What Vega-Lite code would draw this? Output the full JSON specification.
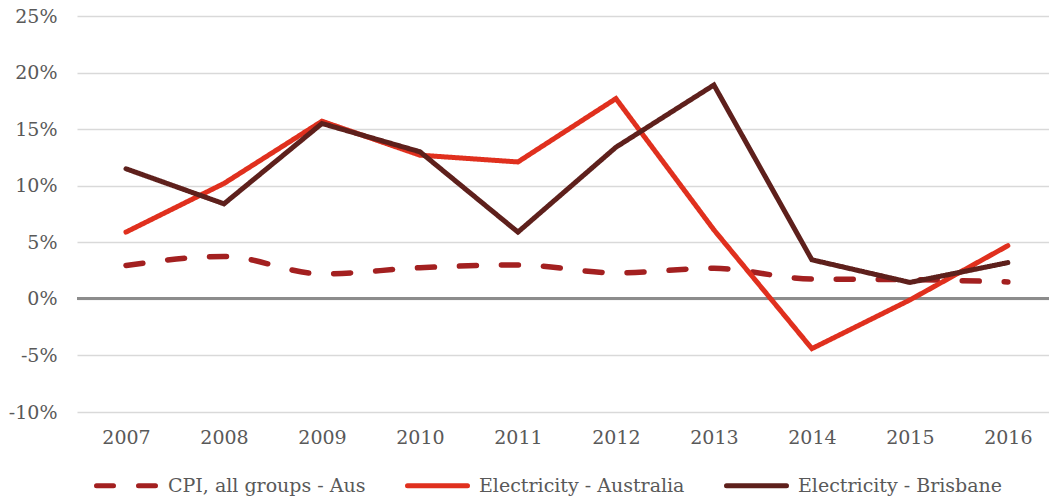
{
  "$schema": "https://vega.github.io/schema/vega-lite/v6.json",
  "autosize": {"type": "none"},
  "width": 972,
  "height": 396,
  "padding": {"left": 77, "top": 16, "right": 0, "bottom": 85},
  "background": "white",
  "config": {
    "view": {"stroke": null},
    "font": "DejaVu Serif",
    "axis": {"labelFont": "DejaVu Serif", "labelFontSize": 19, "labelColor": "#595959"},
    "legend": {"labelFont": "DejaVu Serif", "labelFontSize": 19, "labelColor": "#595959"}
  },
  "data": {
    "values": [
      {"year": 2007, "series": "CPI, all groups - Aus", "value": 2.95},
      {"year": 2008, "series": "CPI, all groups - Aus", "value": 3.75},
      {"year": 2009, "series": "CPI, all groups - Aus", "value": 2.2},
      {"year": 2010, "series": "CPI, all groups - Aus", "value": 2.75},
      {"year": 2011, "series": "CPI, all groups - Aus", "value": 3.0},
      {"year": 2012, "series": "CPI, all groups - Aus", "value": 2.3},
      {"year": 2013, "series": "CPI, all groups - Aus", "value": 2.7},
      {"year": 2014, "series": "CPI, all groups - Aus", "value": 1.75},
      {"year": 2015, "series": "CPI, all groups - Aus", "value": 1.7},
      {"year": 2016, "series": "CPI, all groups - Aus", "value": 1.5},
      {"year": 2007, "series": "Electricity - Australia", "value": 5.9},
      {"year": 2008, "series": "Electricity - Australia", "value": 10.2},
      {"year": 2009, "series": "Electricity - Australia", "value": 15.7},
      {"year": 2010, "series": "Electricity - Australia", "value": 12.7},
      {"year": 2011, "series": "Electricity - Australia", "value": 12.1},
      {"year": 2012, "series": "Electricity - Australia", "value": 17.7},
      {"year": 2013, "series": "Electricity - Australia", "value": 6.1},
      {"year": 2014, "series": "Electricity - Australia", "value": -4.4},
      {"year": 2015, "series": "Electricity - Australia", "value": -0.1},
      {"year": 2016, "series": "Electricity - Australia", "value": 4.7},
      {"year": 2007, "series": "Electricity - Brisbane", "value": 11.5},
      {"year": 2008, "series": "Electricity - Brisbane", "value": 8.4},
      {"year": 2009, "series": "Electricity - Brisbane", "value": 15.5},
      {"year": 2010, "series": "Electricity - Brisbane", "value": 13.0},
      {"year": 2011, "series": "Electricity - Brisbane", "value": 5.9},
      {"year": 2012, "series": "Electricity - Brisbane", "value": 13.4},
      {"year": 2013, "series": "Electricity - Brisbane", "value": 18.9},
      {"year": 2014, "series": "Electricity - Brisbane", "value": 3.45},
      {"year": 2015, "series": "Electricity - Brisbane", "value": 1.45},
      {"year": 2016, "series": "Electricity - Brisbane", "value": 3.2}
    ]
  },
  "encoding": {
    "x": {
      "field": "year", "type": "quantitative",
      "scale": {"domain": [2006.5, 2016.42], "nice": false, "zero": false},
      "axis": {
        "title": null, "grid": false, "domain": false, "ticks": false,
        "values": [2007, 2008, 2009, 2010, 2011, 2012, 2013, 2014, 2015, 2016],
        "format": "d", "labelPadding": 16
      }
    },
    "y": {
      "field": "value", "type": "quantitative",
      "scale": {"domain": [-10, 25], "nice": false, "zero": false},
      "axis": {
        "title": null, "domain": false, "ticks": false,
        "values": [-10, -5, 0, 5, 10, 15, 20, 25],
        "labelExpr": "datum.value + '%'",
        "labelPadding": 20,
        "grid": true, "gridColor": "#D9D9D9", "gridWidth": 1.5
      }
    },
    "color": {
      "field": "series", "type": "nominal",
      "scale": {
        "domain": ["CPI, all groups - Aus", "Electricity - Australia", "Electricity - Brisbane"],
        "range": ["#A32020", "#E0301E", "#5E201C"]
      },
      "legend": {
        "title": null, "orient": "none", "direction": "horizontal", "columns": 3,
        "legendX": 17, "legendY": 437,
        "symbolType": "stroke", "symbolSize": 3600, "symbolStrokeWidth": 5,
        "labelOffset": 9, "columnPadding": 31, "labelLimit": 400,
        "encode": {"symbols": {"update": {"strokeCap": {"value": "round"}}}}
      }
    },
    "strokeDash": {
      "field": "series", "type": "nominal",
      "scale": {
        "domain": ["CPI, all groups - Aus", "Electricity - Australia", "Electricity - Brisbane"],
        "range": [[17, 25], [1, 0], [1, 0]]
      },
      "legend": null
    }
  },
  "layer": [
    {
      "mark": {"type": "rule", "color": "#8C8C8C", "strokeWidth": 2},
      "encoding": {"y": {"datum": 0}, "x": null, "color": null, "strokeDash": null}
    },
    {
      "transform": [{"filter": "datum.series === 'CPI, all groups - Aus'"}],
      "mark": {"type": "line", "strokeWidth": 5.5, "strokeCap": "round", "interpolate": "monotone"}
    },
    {
      "transform": [{"filter": "datum.series !== 'CPI, all groups - Aus'"}],
      "mark": {"type": "line", "strokeWidth": 5, "strokeCap": "round"}
    }
  ]
}
